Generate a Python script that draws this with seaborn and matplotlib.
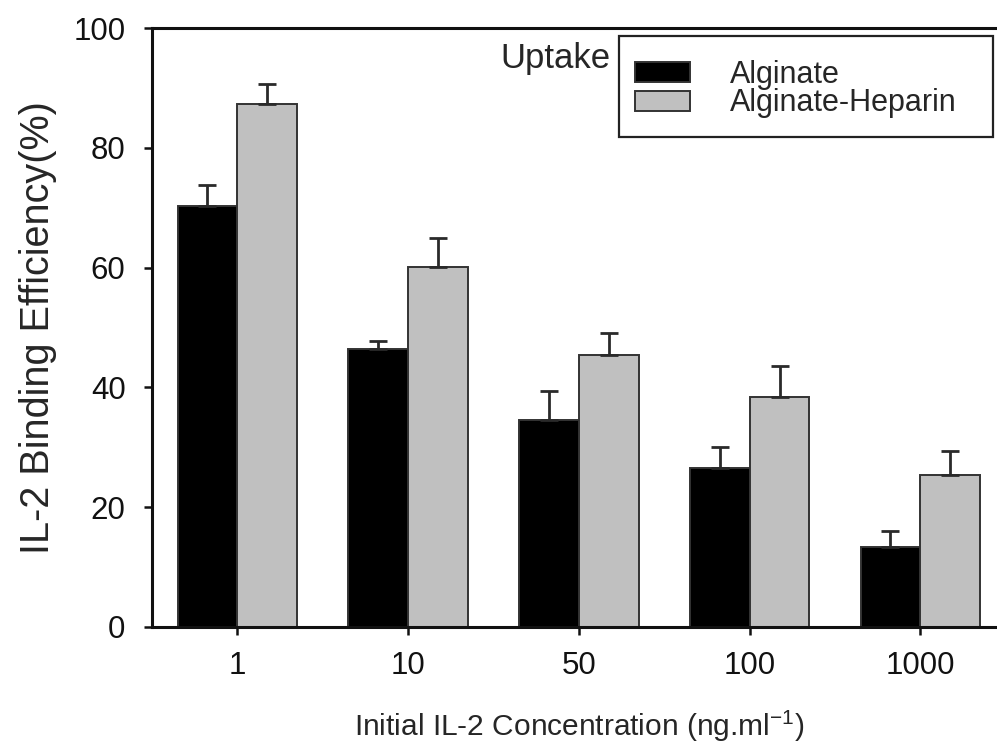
import matplotlib
matplotlib.use("Agg")
import matplotlib.pyplot as plt
import matplotlib.patches as mpatches
import seaborn as sns
import pandas as pd

concentrations = ["1", "10", "50", "100", "1000"]
alginate = [70.3, 46.4, 34.5, 26.5, 13.4]
alginate_err = [3.5, 1.3, 4.9, 3.6, 2.7]
heparin = [87.3, 60.1, 45.4, 38.4, 25.3]
heparin_err = [3.3, 4.8, 3.6, 5.2, 4.1]
series = ["Alginate", "Alginate-Heparin"]

sns.set_theme(style="white")
plt.rcParams["font.family"] = ["Liberation Sans", "DejaVu Sans"]

df = pd.DataFrame({
    "conc": concentrations * 2,
    "value": alginate + heparin,
    "series": [series[0]] * 5 + [series[1]] * 5,
})

fig = plt.figure(figsize=(9.97, 7.56), dpi=100)
ax = fig.add_axes([152/997, 1-627/756, 853.75/997, (627-28)/756])

palette = {series[0]: "#000000", series[1]: "#c0c0c0"}
sns.barplot(data=df, x="conc", y="value", hue="series", order=concentrations,
            hue_order=series, palette=palette, width=0.7, errorbar=None,
            saturation=1, ax=ax, edgecolor="#333333", linewidth=1.4)

# error bars (upper only) at bar centres
errs = alginate_err + heparin_err
vals = alginate + heparin
bars = [p for p in ax.patches if p.get_height() > 0][:10]
for p, v, e in zip(bars, vals, errs):
    xc = p.get_x() + p.get_width() / 2
    ax.errorbar([xc], [v], yerr=[[0], [e]], fmt="none", ecolor="#2a2a2a",
                elinewidth=2.0, capsize=6.5, capthick=2.0, zorder=1)

ax.set_xlim(-0.5, 4.5)
ax.set_ylim(0, 100)
ax.set_yticks([0, 20, 40, 60, 80, 100])
for s in ["left", "bottom", "top"]:
    ax.spines[s].set_visible(True)
    ax.spines[s].set_color("#111111")
    ax.spines[s].set_linewidth(2.2)
ax.spines["right"].set_visible(False)
ax.tick_params(axis="both", which="major", direction="out", length=6, width=1.8,
               colors="#111111", labelsize=22.5, left=True, bottom=True)
ax.tick_params(axis="y", pad=13)
ax.tick_params(axis="x", pad=11)
ax.set_xlabel("Initial IL-2 Concentration (ng.ml$^{\\mathregular{-1}}$)", fontsize=21.5, labelpad=20)
ax.set_ylabel("IL-2 Binding Efficiency(%)", fontsize=28.5, labelpad=12)

handles, labels = ax.get_legend_handles_labels()
leg = ax.legend(handles, labels, loc="upper left", bbox_to_anchor=(635/997, 1-60/756),
                bbox_transform=fig.transFigure, borderaxespad=0, frameon=False,
                fontsize=22, handlelength=1.8, handleheight=0.62, handletextpad=1.3,
                labelspacing=-0.05, borderpad=0)
fig.patches.append(mpatches.Rectangle((619/997, 1-137/756), (993-619)/997, (137-36)/756,
                                      transform=fig.transFigure, fill=False,
                                      edgecolor="#222222", linewidth=1.6))

fig.text(500/997, 1-68/756, "Uptake", fontsize=25, ha="left", va="baseline")

fig.savefig("out.png", dpi=100)
